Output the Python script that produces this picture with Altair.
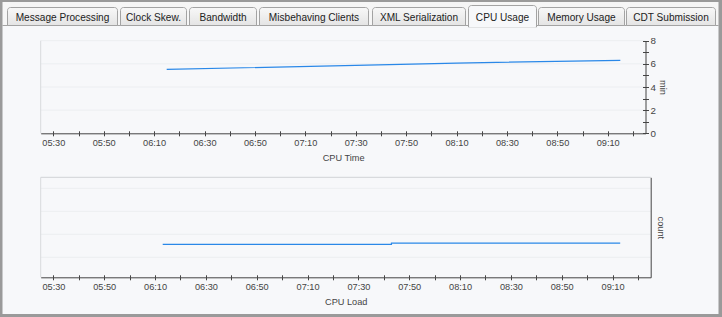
import altair as alt
import pandas as pd

# ---------------- data ----------------
tab_labels = ["Message Processing", "Clock Skew.", "Bandwidth", "Misbehaving Clients",
              "XML Serialization", "CPU Usage", "Memory Usage", "CDT Submission"]
selected_tab = "CPU Usage"

cpu_time_clock = ["06:15", "07:30", "08:10", "09:15"]
cpu_time_min = [5.52, 5.87, 6.07, 6.30]

cpu_load_clock = ["06:13", "07:43", "09:13"]
cpu_load_count = [0.56, 0.62, 0.62]

time_axis_start = "05:25"
time_axis_end = "09:25"
time_tick_start = "05:30"
time_tick_end = "09:20"
cpu_time_axis = [0, 8]
cpu_time_ticks = [0, 1, 2, 3, 4, 5, 6, 7, 8]
cpu_time_grid = [2, 4, 6, 8]
cpu_load_axis = [-0.87, 3.48]
cpu_load_grid = [0, 1, 2, 3]


def minutes(hhmm):
    h, m = hhmm.split(":")
    return int(h) * 60 + int(m)


# ---------------- layout / style ----------------
W, H = 722, 317
FONT = "Liberation Sans"
BG = "#f7f8fa"
STRIP = "#f6f6f6"
FRAME = "#9a9a9a"
TAB_LINE = "#a3a3a3"
AX = "#444444"
LAB = "#444444"
GRID = "#eceef1"
EDGE = "#d8dadd"
BLUE = "#2a88e8"
FS = 9.2

TAB_BOUNDS = [(7.5, 117.5), (120.5, 186.5), (189.5, 256.5), (259.5, 368.5),
              (372.5, 465.5), (468.5, 536.5), (538.5, 624.5), (626.5, 715.5)]

TOP = dict(left=40.7, right=645.5, top=40.7, bottom=133.3)
BOT = dict(left=40.7, right=650.7, top=177.3, bottom=277.3)

x_ticks = list(range(minutes(time_tick_start), minutes(time_tick_end) + 1, 10))
XLABEL = ("datum.value % 20 == 10 ? (floor(datum.value / 60) < 10 ? '0' : '') + floor(datum.value / 60)"
          " + ':' + (datum.value % 60 < 10 ? '0' : '') + (datum.value % 60) : ''")

one = pd.DataFrame({"k": [0]})


def box(x, x2, y, y2, **mark):
    return alt.Chart(one).mark_rect(**mark).encode(
        x=alt.value(x), x2=alt.value(x2), y=alt.value(y), y2=alt.value(y2))


def rule(x, x2, y, y2, color, width=1):
    return alt.Chart(one).mark_rule(color=color, strokeWidth=width).encode(
        x=alt.value(x), x2=alt.value(x2), y=alt.value(y), y2=alt.value(y2))


def x_axis_main(bottom, title):
    return alt.Axis(orient="bottom", offset=bottom - H, values=x_ticks, labelExpr=XLABEL,
                    tickSize=2.5, tickColor=AX, tickWidth=1, domainColor=AX, domainWidth=1,
                    labelFont=FONT, labelFontSize=FS, labelColor=LAB, labelPadding=2.5,
                    labelOverlap=False, labelFlush=False,
                    title=title, titleFont=FONT, titleFontSize=FS, titleFontWeight="normal",
                    titleColor=LAB, titlePadding=5.5, grid=False, zindex=1)


def x_axis_up(bottom):
    return alt.Axis(orient="bottom", offset=bottom - 2.5 - H, values=x_ticks,
                    tickSize=2.5, tickColor=AX, tickWidth=1, domain=False, labels=False,
                    title=None, grid=False, zindex=1)


# ---------------- chrome ----------------
layers = [
    box(0, W, 0, 25.5, color=STRIP),
    rule(2.5, 718.5, 25.5, 25.5, TAB_LINE),
]

tabs = pd.DataFrame({
    "label": tab_labels,
    "x0": [b[0] for b in TAB_BOUNDS],
    "x1": [b[1] for b in TAB_BOUNDS],
    "cx": [(b[0] + b[1]) / 2 for b in TAB_BOUNDS],
})
unsel = tabs[tabs["label"] != selected_tab]
sel = tabs[tabs["label"] == selected_tab].iloc[0]

tab_fill = alt.Gradient(gradient="linear",
                        stops=[alt.GradientStop(color="#f8f8f8", offset=0),
                               alt.GradientStop(color="#e4e4e4", offset=1)],
                        x1=0, x2=0, y1=0, y2=1)

layers.append(
    alt.Chart(unsel).mark_rect(color=tab_fill, stroke=TAB_LINE, strokeWidth=1,
                               cornerRadiusTopLeft=3, cornerRadiusTopRight=3).encode(
        x=alt.X("x0:Q", scale=None, axis=None), x2="x1:Q",
        y=alt.value(7.5), y2=alt.value(25.5)))
layers.append(box(sel["x0"], sel["x1"], 5.5, 27, color=BG, stroke=TAB_LINE, strokeWidth=1,
                  cornerRadiusTopLeft=3, cornerRadiusTopRight=3))
layers.append(box(sel["x0"] + 0.6, sel["x1"] - 0.6, 24, 27.5, color=BG))
layers.append(
    alt.Chart(tabs).mark_text(font=FONT, fontSize=10.1, color="#222222", baseline="alphabetic").encode(
        x=alt.X("cx:Q", scale=None, axis=None), y=alt.value(20.5), text="label:N"))

# ---------------- CPU Time chart ----------------
xs_top = alt.Scale(domain=[minutes(time_axis_start), minutes(time_axis_end)],
                   range=[TOP["left"], TOP["right"]], nice=False, zero=False)
ys_top = alt.Scale(domain=cpu_time_axis, range=[TOP["bottom"], TOP["top"]], nice=False, zero=False)

df_time = pd.DataFrame({"t": [minutes(c) for c in cpu_time_clock], "v": cpu_time_min})

layers.append(
    alt.Chart(pd.DataFrame({"g": cpu_time_grid})).mark_rule(color=GRID, strokeWidth=1).encode(
        y=alt.Y("g:Q", scale=ys_top, axis=None),
        x=alt.value(TOP["left"]), x2=alt.value(TOP["right"])))
layers.append(rule(TOP["left"], TOP["left"], TOP["top"], TOP["bottom"], EDGE))

layers.append(
    alt.Chart(df_time).mark_line(color=BLUE, strokeWidth=1.2).encode(
        x=alt.X("t:Q", scale=xs_top, axis=x_axis_main(TOP["bottom"], "CPU Time")),
        y=alt.Y("v:Q", scale=ys_top,
                axis=alt.Axis(orient="right", offset=TOP["right"] - W, values=cpu_time_ticks,
                              labelExpr="datum.value % 2 == 0 ? datum.label : ''",
                              tickSize=3, tickColor=AX, tickWidth=1, domainColor=AX, domainWidth=1,
                              labelFont=FONT, labelFontSize=FS + 0.6, labelColor=LAB, labelPadding=1.5,
                              labelOverlap=False, labelFlush=False,
                              title="min", titleFont=FONT, titleFontSize=FS, titleFontWeight="normal",
                              titleColor=LAB, titlePadding=2, grid=False, zindex=1))))
layers.append(
    alt.Chart(df_time).mark_line(strokeOpacity=0).encode(
        x=alt.X("t:Q", scale=xs_top, axis=x_axis_up(TOP["bottom"])),
        y=alt.Y("v:Q", scale=ys_top,
                axis=alt.Axis(orient="right", offset=TOP["right"] - 3 - W, values=cpu_time_ticks,
                              tickSize=3, tickColor=AX, tickWidth=1, domain=False, labels=False,
                              title=None, grid=False, zindex=1))))

# ---------------- CPU Load chart ----------------
xs_bot = alt.Scale(domain=[minutes(time_axis_start), minutes(time_axis_end)],
                   range=[BOT["left"], BOT["right"]], nice=False, zero=False)
ys_bot = alt.Scale(domain=cpu_load_axis, range=[BOT["bottom"], BOT["top"]], nice=False, zero=False)

df_load = pd.DataFrame({"t": [minutes(c) for c in cpu_load_clock], "v": cpu_load_count})

layers.append(
    alt.Chart(pd.DataFrame({"g": cpu_load_grid})).mark_rule(color=GRID, strokeWidth=1).encode(
        y=alt.Y("g:Q", scale=ys_bot, axis=None),
        x=alt.value(BOT["left"]), x2=alt.value(BOT["right"])))
layers.append(rule(BOT["left"], BOT["right"], BOT["top"], BOT["top"], EDGE, 1.2))
layers.append(rule(BOT["left"], BOT["left"], BOT["top"], BOT["bottom"], EDGE))

layers.append(
    alt.Chart(df_load).mark_line(color=BLUE, strokeWidth=1.2, interpolate="step-after").encode(
        x=alt.X("t:Q", scale=xs_bot, axis=x_axis_main(BOT["bottom"], "CPU Load")),
        y=alt.Y("v:Q", scale=ys_bot,
                axis=alt.Axis(orient="right", offset=BOT["right"] - W, ticks=False, labels=False,
                              domainColor=AX, domainWidth=1,
                              title="count", titleFont=FONT, titleFontSize=FS, titleFontWeight="normal",
                              titleColor=LAB, titlePadding=5, grid=False, zindex=1))))
layers.append(
    alt.Chart(df_load).mark_line(strokeOpacity=0).encode(
        x=alt.X("t:Q", scale=xs_bot, axis=x_axis_up(BOT["bottom"])),
        y=alt.Y("v:Q", scale=ys_bot, axis=None)))

# ---------------- outer frame ----------------
layers += [
    box(0, W, 0, 2, color=FRAME),
    box(0, 2.5, 0, H, color=FRAME),
    box(718.5, W, 0, H, color=FRAME),
    box(0, W, 314, H, color=FRAME),
]

chart = alt.layer(*layers).resolve_scale(
    x="independent", y="independent"
).resolve_axis(
    x="independent", y="independent"
).properties(
    width=W, height=H, background=BG, padding=0,
    autosize=alt.AutoSizeParams(type="none"),
).configure_view(strokeWidth=0)

chart.save("out.html", embed_options={"renderer": "svg", "actions": False})
